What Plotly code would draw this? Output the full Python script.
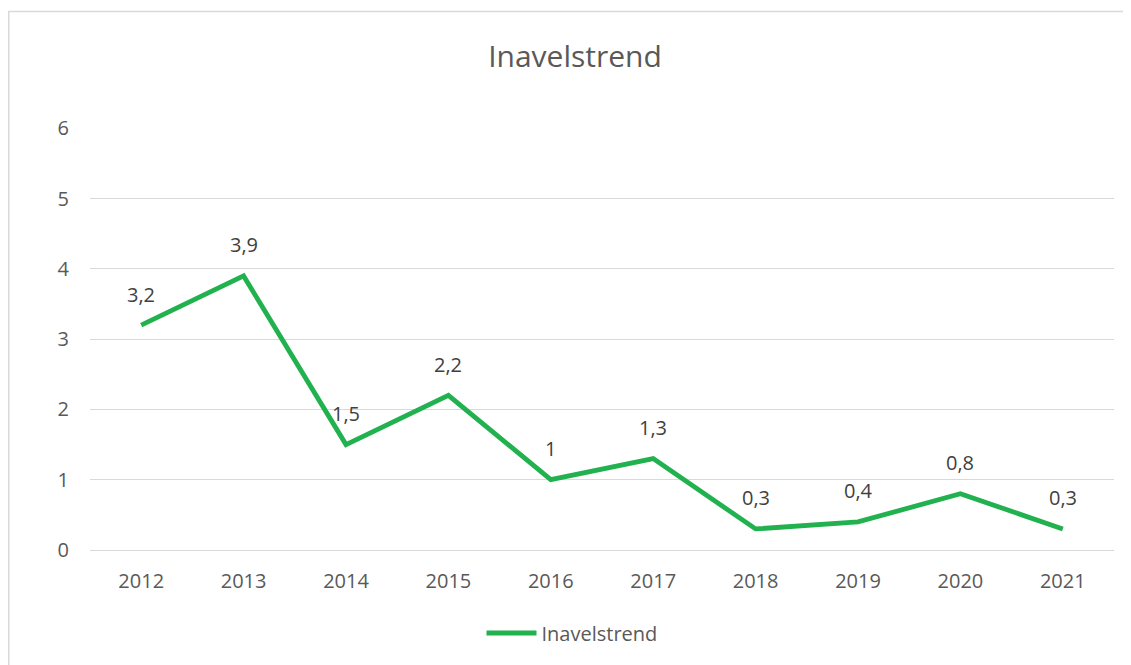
import plotly.graph_objects as go

years = ["2012", "2013", "2014", "2015", "2016", "2017", "2018", "2019", "2020", "2021"]
values = [3.2, 3.9, 1.5, 2.2, 1, 1.3, 0.3, 0.4, 0.8, 0.3]
labels = [("%g" % v).replace(".", ",") for v in values]
y_ticks = [0, 1, 2, 3, 4, 5, 6]

# page body has an 8px margin: work in figure coordinates = screen - 8
OFF = 8
W, H = 1131 - OFF, 665 - OFF
L, R, T, B = 90 - OFF, W - (1114 - OFF), 128 - OFF, H - (550 - OFF)
pw, ph = W - L - R, H - T - B

FONT = "Open Sans, sans-serif"

fig = go.Figure()
fig.add_trace(go.Scatter(
    x=years, y=values, mode="lines", name="Inavelstrend",
    line=dict(color="#21B14F", width=4.8),
))

for i, (y, t) in enumerate(zip(values, labels)):
    fig.add_annotation(x=i, y=y, xref="x", yref="y", text=t, showarrow=False, yshift=31,
                       font=dict(size=20, color="#404040", family=FONT))

# chart border
fig.add_shape(type="rect", xref="paper", yref="paper",
              x0=(0.75 - L) / pw, x1=(W + 20 - L) / pw,
              y0=-(B + 20) / ph, y1=(H - B - 3.5) / ph,
              line=dict(color="#D9D9D9", width=1.5), fillcolor="rgba(0,0,0,0)", layer="below")

fig.update_layout(
    width=W, height=H,
    margin=dict(l=L, r=R, t=T, b=B),
    paper_bgcolor="white", plot_bgcolor="white",
    title=dict(text="Inavelstrend", x=(575 - OFF) / W, xanchor="center",
               y=1 - (56 - OFF) / H, yanchor="middle",
               font=dict(size=30, color="#595959", family=FONT)),
    font=dict(family=FONT, color="#595959", size=20),
    showlegend=True,
    legend=dict(orientation="h", x=0.5 - 30 / pw, xanchor="center", y=-(633 - 550) / ph, yanchor="middle",
                font=dict(size=20, color="#595959"), itemwidth=50),
    xaxis=dict(type="category", range=[-0.5, 9.5], showgrid=False, showline=False, ticks="",
               ticklabelstandoff=17, tickfont=dict(size=20, color="#595959")),
    yaxis=dict(range=[0, 6.004], tickvals=y_ticks, showgrid=True, gridcolor="#D9D9D9", gridwidth=1,
               zeroline=True, zerolinecolor="#D9D9D9", zerolinewidth=1, showline=False, ticks="",
               ticklabelstandoff=20, tickfont=dict(size=20, color="#595959")),
)

fig.write_html("out.html")
